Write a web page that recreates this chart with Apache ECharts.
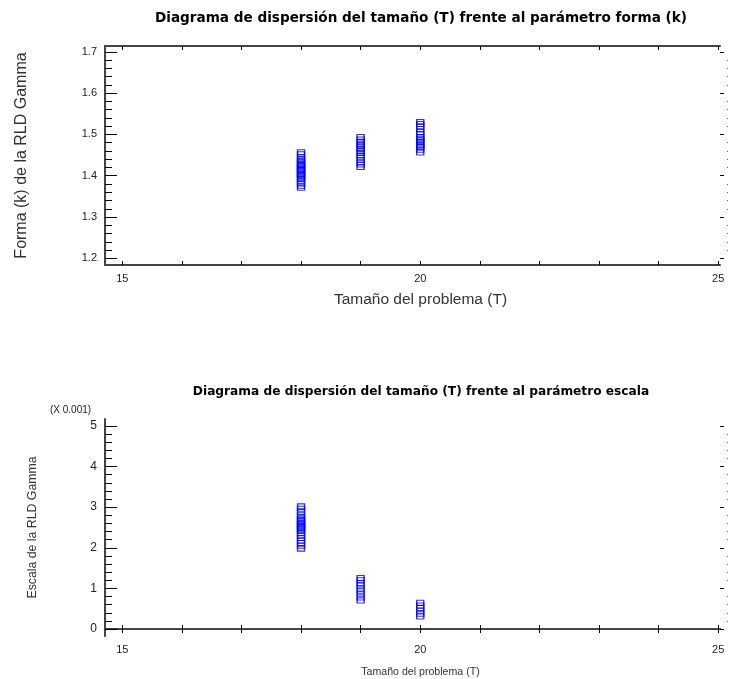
<!DOCTYPE html>
<html>
<head>
<meta charset="utf-8">
<script src="https://cdn.jsdelivr.net/npm/echarts@6/dist/echarts.min.js"></script>
<style>
html, body { margin: 0; padding: 0; background: #fff; }
#chart { width: 730px; height: 679px; }
</style>
</head>
<body>
<div id="chart"></div>
<script>
// Tamaño del problema (T)
var xTicks = [15, 16, 17, 18, 19, 20, 21, 22, 23, 24, 25]
var xLabels = [15, 20, 25]

// parámetro forma (k) por tamaño
var formaT18 = [1.457, 1.452, 1.445, 1.440, 1.436, 1.432, 1.429, 1.426, 1.423, 1.420, 1.417, 1.414, 1.411, 1.408, 1.405, 1.402, 1.399, 1.396, 1.392, 1.386, 1.381, 1.376, 1.371]
var formaT19 = [1.494, 1.488, 1.482, 1.478, 1.474, 1.471, 1.465, 1.460, 1.455, 1.449, 1.444, 1.438, 1.432, 1.427, 1.421]
var formaT20 = [1.530, 1.525, 1.520, 1.513, 1.506, 1.500, 1.494, 1.490, 1.486, 1.482, 1.478, 1.474, 1.471, 1.469, 1.463, 1.456]
var formaYTicks = [1.2, 1.3, 1.4, 1.5, 1.6, 1.7]

// parámetro escala (X 0.001) por tamaño
var escalaT18 = [3.02, 2.96, 2.88, 2.80, 2.74, 2.70, 2.66, 2.62, 2.58, 2.55, 2.51, 2.48, 2.45, 2.42, 2.36, 2.30, 2.24, 2.18, 2.12, 2.05, 1.98]
var escalaT19 = [1.255, 1.20, 1.13, 1.07, 1.00, 0.93, 0.86, 0.78, 0.706]
var escalaT20 = [0.65, 0.58, 0.52, 0.45, 0.38, 0.31]
var escalaYTicks = [0, 1, 2, 3, 4, 5]

function pairs (t, vals) {
  return vals.map(function (v) { return [t, v] })
}

function minorList (ticks, parts) {
  var out = []
  for (var i = 0; i < ticks.length - 1; i++) {
    var step = (ticks[i + 1] - ticks[i]) / parts
    for (var j = 1; j < parts; j++) out.push(+(ticks[i] + step * j).toFixed(4))
  }
  return out
}

var axisColor = '#444'
var font = 'Liberation Sans'
var xMin = 14.71
var xMax = 25.03

function xAxes (grid, title, titleSize, gap) {
  return [
    {
      gridIndex: grid, type: 'value', position: 'bottom', min: xMin, max: xMax,
      name: title, nameLocation: 'middle', nameGap: gap,
      nameTextStyle: { fontFamily: font, fontSize: titleSize, color: '#333', padding: [0, 0, 0, 16] },
      axisLine: { show: true, lineStyle: { color: axisColor, width: 2 } },
      axisTick: { show: true, inside: true, length: 4, customValues: xTicks, lineStyle: { color: '#000' } },
      axisLabel: { show: true, customValues: xLabels, margin: 8, fontFamily: font, fontSize: 11, color: '#222' },
      splitLine: { show: false }
    },
    {
      gridIndex: grid, type: 'value', position: 'top', min: xMin, max: xMax,
      axisLine: { show: true, lineStyle: { color: axisColor, width: 2 } },
      axisTick: { show: true, inside: true, length: 4, customValues: xTicks, lineStyle: { color: '#000' } },
      axisLabel: { show: false },
      splitLine: { show: false }
    }
  ]
}

function yAxes (grid, min, max, ticks, parts, title, titleSize, gap, labelSize, fmt) {
  var minor = minorList(ticks, parts)
  return [
    {
      gridIndex: grid, type: 'value', position: 'left', min: min, max: max,
      name: title, nameLocation: 'middle', nameGap: gap,
      nameTextStyle: { fontFamily: font, fontSize: titleSize, color: '#333' },
      axisLine: { show: true, lineStyle: { color: axisColor, width: 2 } },
      axisTick: { show: true, inside: true, length: 12, customValues: ticks, lineStyle: { color: '#000' } },
      axisLabel: { show: true, customValues: ticks, margin: 8, fontFamily: font, fontSize: labelSize, color: '#222', formatter: fmt },
      splitLine: { show: false }
    },
    {
      gridIndex: grid, type: 'value', position: 'left', min: min, max: max,
      axisLine: { show: false },
      axisTick: { show: true, inside: true, length: 7, customValues: minor, lineStyle: { color: '#000' } },
      axisLabel: { show: false },
      splitLine: { show: false }
    },
    {
      gridIndex: grid, type: 'value', position: 'right', min: min, max: max,
      axisLine: { show: false },
      axisTick: { show: true, inside: false, length: 4, customValues: ticks, lineStyle: { color: '#000' } },
      axisLabel: { show: false },
      splitLine: { show: false }
    },
    {
      gridIndex: grid, type: 'value', position: 'right', offset: 8, min: min, max: max,
      axisLine: { show: false },
      axisTick: { show: true, inside: true, length: 1, customValues: minor, lineStyle: { color: '#666' } },
      axisLabel: { show: false },
      splitLine: { show: false }
    }
  ]
}

function scatter (xi, yi, data) {
  return {
    type: 'scatter', xAxisIndex: xi, yAxisIndex: yi, data: data,
    symbol: 'rect', symbolSize: [7, 5],
    itemStyle: { color: 'rgba(0,0,0,0)', borderColor: '#0000ff', borderWidth: 1.2 }
  }
}

var myChart = echarts.init(document.getElementById('chart'))
myChart.setOption({
  animation: false,
  backgroundColor: '#fff',
  title: [
    {
      text: 'Diagrama de dispersión del tamaño (T) frente al parámetro forma (k)',
      left: 416, top: 6, textAlign: 'center',
      textStyle: { fontFamily: 'DejaVu Sans', fontWeight: 'bold', fontSize: 13.6, color: '#000' }
    },
    {
      text: 'Diagrama de dispersión del tamaño (T) frente al parámetro escala',
      left: 416, top: 381, textAlign: 'center',
      textStyle: { fontFamily: 'DejaVu Sans', fontWeight: 'bold', fontSize: 12.2, color: '#000' }
    }
  ],
  grid: [
    { left: 105, top: 46, width: 615, height: 219 },
    { left: 105, top: 419, width: 615, height: 218 }
  ],
  graphic: [
    {
      type: 'text', left: 50, top: 405,
      style: { text: '(X 0.001)', fontFamily: font, fontSize: 10, fill: '#222' }
    }
  ],
  xAxis: xAxes(0, 'Tamaño del problema (T)', 15.5, 27).concat(xAxes(1, 'Tamaño del problema (T)', 10.6, 31)),
  yAxis: yAxes(0, 1.184, 1.714, formaYTicks, 5, 'Forma (k) de la RLD Gamma', 16, 75, 11, function (v) { return v.toFixed(1) })
    .concat(yAxes(1, -0.17, 5.17, escalaYTicks, 5, 'Escala de la RLD Gamma', 12.3, 66, 12, function (v) { return String(Math.round(v)) })),
  series: [
    scatter(0, 0, pairs(18, formaT18)),
    scatter(0, 0, pairs(19, formaT19)),
    scatter(0, 0, pairs(20, formaT20)),
    scatter(2, 4, pairs(18, escalaT18)),
    scatter(2, 4, pairs(19, escalaT19)),
    scatter(2, 4, pairs(20, escalaT20))
  ]
})
</script>
</body>
</html>
